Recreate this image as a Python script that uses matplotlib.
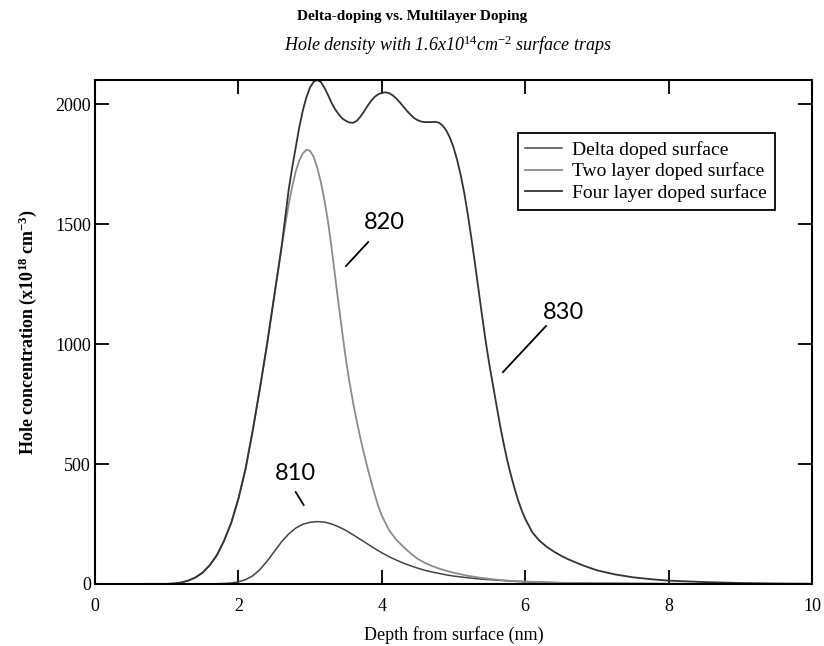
import matplotlib
matplotlib.use("Agg")
import matplotlib.pyplot as plt

plt.rcParams["font.family"] = ["Liberation Serif", "DejaVu Serif"]
plt.rcParams["mathtext.fontset"] = "custom"
plt.rcParams["mathtext.rm"] = "Liberation Serif"
plt.rcParams["mathtext.it"] = "Liberation Serif:italic"
plt.rcParams["mathtext.bf"] = "Liberation Serif:bold"

# depth (nm) and hole concentration (x1e18 cm^-3) for each doping profile
delta_x = [0, 1.6, 1.8, 1.9, 2.0, 2.1, 2.2, 2.3, 2.4, 2.5, 2.6, 2.7, 2.8, 2.9,
           3.0, 3.1, 3.2, 3.3, 3.4, 3.5, 3.6, 3.7, 3.8, 3.9, 4.0, 4.1, 4.2,
           4.3, 4.4, 4.5, 4.6, 4.7, 4.8, 4.9, 5.0, 5.2, 5.4, 5.6, 5.8, 6.0,
           6.5, 7.0, 8.0, 10.0]
delta_y = [0, 0, 2, 4, 9, 18, 34, 60, 95, 135, 175, 208, 233, 249,
           257, 260, 258, 250, 238, 223, 205, 186, 167, 148, 130, 114, 100,
           87, 76, 66, 57, 50, 44, 38, 33, 26, 20, 16, 12, 9,
           5, 3, 1, 0]

two_x = [0, 1.0, 1.1, 1.2, 1.3, 1.4, 1.5, 1.6, 1.7, 1.8, 1.9, 2.0, 2.1, 2.2,
         2.3, 2.4, 2.5, 2.6, 2.65, 2.7, 2.75, 2.8, 2.85, 2.9, 2.95, 3.0, 3.05,
         3.1, 3.15, 3.2, 3.25, 3.3, 3.35, 3.4, 3.45, 3.5, 3.55, 3.6, 3.65,
         3.7, 3.75, 3.8, 3.85, 3.9, 3.95, 4.0, 4.1, 4.2, 4.3, 4.4, 4.5, 4.6,
         4.7, 4.8, 4.9, 5.0, 5.2, 5.4, 5.6, 5.8, 6.0, 6.5, 7.0, 8.0, 10.0]
two_y = [0, 0.5, 2, 6, 14, 27, 47, 78, 120, 180, 255, 355, 480, 640,
         815, 1000, 1200, 1400, 1490, 1580, 1655, 1720, 1765, 1795, 1810, 1805, 1780,
         1735, 1675, 1600, 1510, 1400, 1280, 1160, 1045, 935, 840, 755, 680,
         610, 545, 485, 428, 375, 325, 285, 225, 185, 155, 128, 105, 88,
         75, 64, 55, 47, 34, 25, 18, 13, 10, 5, 3, 1, 0]

four_x = [0, 1.0, 1.1, 1.2, 1.3, 1.4, 1.5, 1.6, 1.7, 1.8, 1.9, 2.0, 2.1, 2.2,
          2.3, 2.4, 2.5, 2.6, 2.65, 2.7, 2.75, 2.8, 2.85, 2.9, 2.95, 3.0, 3.05,
          3.1, 3.15, 3.2, 3.25, 3.3, 3.35, 3.4, 3.45, 3.5, 3.55, 3.6, 3.65,
          3.7, 3.75, 3.8, 3.85, 3.9, 3.95, 4.0, 4.05, 4.1, 4.15, 4.2, 4.25,
          4.3, 4.35, 4.4, 4.45, 4.5, 4.55, 4.6, 4.7, 4.75, 4.8, 4.85, 4.9,
          4.95, 5.0, 5.05, 5.1, 5.15, 5.2, 5.25, 5.3, 5.35, 5.4, 5.45, 5.5,
          5.55, 5.6, 5.65, 5.7, 5.75, 5.8, 5.85, 5.9, 5.95, 6.0, 6.1, 6.2,
          6.3, 6.4, 6.5, 6.6, 6.8, 7.0, 7.25, 7.5, 7.75, 8.0, 8.5, 9.0, 9.5,
          10.0]
four_y = [0, 0.5, 2, 6, 14, 27, 47, 78, 120, 180, 255, 355, 480, 640,
          815, 1000, 1200, 1400, 1520, 1640, 1735, 1820, 1905, 1975, 2030, 2070, 2093,
          2100, 2092, 2068, 2038, 2005, 1978, 1957, 1940, 1930, 1923, 1922, 1930,
          1947, 1968, 1992, 2013, 2030, 2041, 2047, 2049, 2046, 2037, 2024, 2008,
          1990, 1972, 1956, 1942, 1933, 1927, 1925, 1925, 1926, 1922, 1910, 1890,
          1860, 1820, 1768, 1705, 1630, 1540, 1440, 1335, 1225, 1115, 1010, 915,
          830, 745, 660, 585, 515, 455, 400, 350, 308, 272, 215, 180,
          155, 135, 118, 103, 78, 57, 40, 28, 20, 14, 8, 4, 2,
          1]

labels = ["Delta doped surface", "Two layer doped surface",
          "Four layer doped surface"]

fig = plt.figure(figsize=(8.24, 6.46), dpi=100)
ax = fig.add_axes([0.1153, 0.096, 0.8701, 0.78])

ax.plot(delta_x, delta_y, color="#444444", lw=1.1, label=labels[0])
ax.plot(two_x, two_y, color="#8c8c8c", lw=1.3, label=labels[1])
ax.plot(four_x, four_y, color="#333333", lw=1.3, label=labels[2])

ax.set_xlim(0, 10)
ax.set_ylim(0, 2100)
ax.set_xticks([0, 2, 4, 6, 8, 10])
ax.set_yticks([0, 500, 1000, 1500, 2000])
ax.tick_params(direction="in", length=10, width=1.3, labelsize=13,
               top=True, right=True)
ax.tick_params(axis="x", pad=10)
ax.tick_params(axis="y", pad=3)
for s in ax.spines.values():
    s.set_linewidth(1.5)

ax.set_xlabel("Depth from surface (nm)", fontsize=13, labelpad=8)
ax.set_ylabel(r"Hole concentration (x10$^{\mathbf{18}}$ cm$^{\mathbf{-3}}$)",
              fontsize=13, fontweight="bold")
ax.yaxis.set_label_coords(-0.078, 0.5)

leg = ax.legend(loc="upper right", bbox_to_anchor=(0.948, 0.895), fontsize=14,
                frameon=True, fancybox=False, framealpha=1, edgecolor="black",
                handlelength=1.9, handletextpad=0.5, borderpad=0.4,
                labelspacing=0.2, borderaxespad=0)
leg.get_frame().set_linewidth(1.3)

fig.text(0.5, 0.974, "Delta-doping vs. Multilayer Doping", ha="center",
         va="center", fontsize=11, fontweight="bold")
fig.text(0.543, 0.93, r"Hole density with 1.6x10$^{\mathit{14}}$cm$^{\mathit{-2}}$ surface traps",
         ha="center", va="center", fontsize=13, style="italic")

# reference numerals with leader lines
ann_font = dict(family="Lato", fontsize=17, ha="center", va="center")
ax.text(4.04, 1508, "820", **ann_font)
ax.plot([3.81, 3.50], [1425, 1325], color="black", lw=1.3)
ax.text(2.80, 462, "810", **ann_font)
ax.plot([2.80, 2.91], [383, 329], color="black", lw=1.3)
ax.text(6.53, 1133, "830", **ann_font)
ax.plot([6.29, 5.69], [1075, 883], color="black", lw=1.3)

fig.savefig("out.png", dpi=100)
